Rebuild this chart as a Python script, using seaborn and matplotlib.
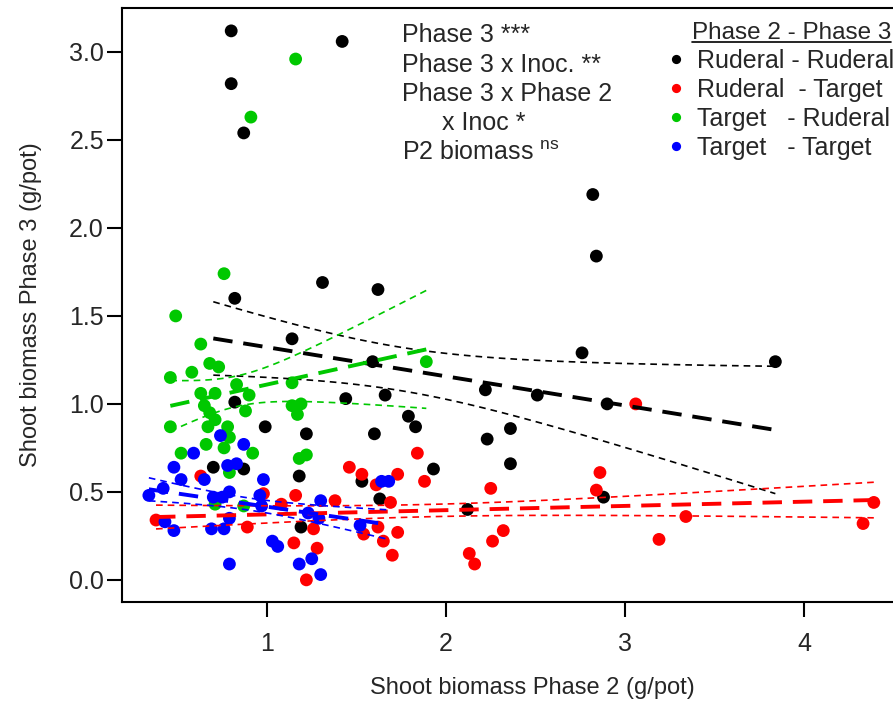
"""
Biomasa de brotes: fase 2 vs fase 3 por combinación de comunidades.
"""
import matplotlib.pyplot as plt
import numpy as np
import pandas as pd
import seaborn as sns
from matplotlib.lines import Line2D

GRUPOS = ["Ruderal - Ruderal", "Ruderal  - Target", "Target   - Ruderal", "Target   - Target"]
COLORES = ["#000000", "#ff0000", "#00c800", "#0000ff"]

# Ruderal - Ruderal
rr_x = [0.80, 0.80, 0.87, 1.42, 0.82, 1.31, 1.62, 1.14, 2.82, 2.84, 2.76, 3.84,
        2.90, 2.51, 2.22, 1.59, 1.44, 1.66, 1.79, 1.83, 1.60, 2.23, 2.36, 2.36,
        1.93, 0.99, 1.22, 0.82, 0.70, 0.87, 1.18, 1.63, 1.53, 1.19, 2.88, 2.12]
rr_y = [3.12, 2.82, 2.54, 3.06, 1.60, 1.69, 1.65, 1.37, 2.19, 1.84, 1.29, 1.24,
        1.00, 1.05, 1.08, 1.24, 1.03, 1.05, 0.93, 0.87, 0.83, 0.80, 0.86, 0.66,
        0.63, 0.87, 0.83, 1.01, 0.64, 0.63, 0.59, 0.46, 0.56, 0.30, 0.47, 0.40]

# Ruderal - Target
rt_x = [3.06, 2.86, 2.84, 2.25, 2.32, 2.26, 2.13, 2.16, 3.19, 3.34, 4.33, 4.39,
        1.84, 1.46, 1.53, 1.73, 1.61, 1.88, 1.38, 1.69, 1.16, 1.26, 1.62, 1.54,
        1.73, 1.65, 1.15, 1.28, 1.70, 1.22, 0.63, 0.98, 1.08, 0.38, 0.89]
rt_y = [1.00, 0.61, 0.51, 0.52, 0.28, 0.22, 0.15, 0.09, 0.23, 0.36, 0.32, 0.44,
        0.72, 0.64, 0.60, 0.60, 0.54, 0.56, 0.45, 0.44, 0.48, 0.29, 0.30, 0.26,
        0.27, 0.22, 0.21, 0.18, 0.14, 0.00, 0.59, 0.49, 0.43, 0.34, 0.30]

# Target - Ruderal
tr_x = [1.16, 0.91, 0.76, 0.49, 0.63, 0.68, 0.73, 0.46, 0.58, 0.63, 0.71, 0.65,
        0.68, 0.71, 0.83, 0.90, 0.88, 1.14, 1.14, 1.19, 1.17, 0.46, 0.67, 0.78,
        0.79, 0.66, 0.76, 0.92, 0.52, 1.18, 1.22, 0.79, 0.71, 0.87, 1.89]
tr_y = [2.96, 2.63, 1.74, 1.50, 1.34, 1.23, 1.21, 1.15, 1.18, 1.06, 1.06, 0.99,
        0.95, 0.91, 1.11, 1.05, 0.96, 1.12, 0.99, 1.00, 0.94, 0.87, 0.87, 0.87,
        0.81, 0.77, 0.75, 0.72, 0.72, 0.69, 0.71, 0.61, 0.43, 0.42, 1.24]

# Target - Target
tt_x = [0.74, 0.87, 0.59, 0.48, 0.78, 0.83, 0.52, 0.65, 0.98, 0.42, 0.34, 0.79,
        0.70, 0.75, 0.96, 0.97, 1.30, 1.23, 1.29, 0.43, 0.48, 0.69, 0.76, 0.79,
        1.03, 1.06, 0.79, 1.18, 1.25, 1.30, 1.52, 1.64, 1.68]
tt_y = [0.82, 0.77, 0.72, 0.64, 0.65, 0.66, 0.57, 0.57, 0.57, 0.52, 0.48, 0.50,
        0.47, 0.47, 0.48, 0.42, 0.45, 0.38, 0.35, 0.33, 0.28, 0.29, 0.29, 0.35,
        0.22, 0.19, 0.09, 0.09, 0.12, 0.03, 0.31, 0.56, 0.56]

X_TICKS = [1, 2, 3, 4]
Y_TICKS = [0.0, 0.5, 1.0, 1.5, 2.0, 2.5, 3.0]

ANOTACIONES = ["Phase 3 ***", "Phase 3 x Inoc. **", "Phase 3 x Phase 2",
               "x Inoc *", r"P2 biomass $^{\mathrm{ns}}$"]


def banda_error(x, y, n_se=1.0, n_puntos=120):
    # banda de +/- n_se errores estándar alrededor del ajuste lineal
    x = np.asarray(x)
    y = np.asarray(y)
    b1, b0 = np.polyfit(x, y, 1)
    xs = np.linspace(x.min(), x.max(), n_puntos)
    resid = y - (b0 + b1 * x)
    s = np.sqrt(np.sum(resid ** 2) / (len(x) - 2))
    se = s * np.sqrt(1 / len(x) + (xs - x.mean()) ** 2 / np.sum((x - x.mean()) ** 2))
    ajuste = b0 + b1 * xs
    return xs, ajuste - n_se * se, ajuste + n_se * se


series = [(rr_x, rr_y), (rt_x, rt_y), (tr_x, tr_y), (tt_x, tt_y)]
df = pd.concat(
    [pd.DataFrame({"p2": sx, "p3": sy, "grupo": g}) for (sx, sy), g in zip(series, GRUPOS)],
    ignore_index=True,
)

sns.set_style("ticks")
plt.rcParams["font.family"] = ["Liberation Sans", "DejaVu Sans"]
plt.rcParams["mathtext.fontset"] = "custom"
plt.rcParams["mathtext.rm"] = "Liberation Sans"

W, H = 893, 701
fig = plt.figure(figsize=(W / 100, H / 100), dpi=100)
ax = fig.add_axes([122 / W, (H - 601.5) / H, (942 - 122) / W, (601.5 - 8) / H])
alto_ax = 601.5 - 8
ancho_ax = 942 - 122

paleta = dict(zip(GRUPOS, COLORES))
sns.scatterplot(data=df, x="p2", y="p3", hue="grupo", hue_order=GRUPOS, palette=paleta,
                s=85, linewidth=0, ax=ax, zorder=2)

for (sx, sy), color in zip(series, COLORES):
    sns.regplot(x=np.array(sx), y=np.array(sy), scatter=False, ci=None, truncate=True,
                color=color, ax=ax,
                line_kws=dict(lw=2.8, ls=(0, (5, 2.8)), zorder=3))
    xs, lo, hi = banda_error(sx, sy)
    ax.plot(xs, lo, color=color, lw=1.2, ls=(0, (4, 3)), zorder=3)
    ax.plot(xs, hi, color=color, lw=1.2, ls=(0, (4, 3)), zorder=3)

ax.set_xlim(1 + (122 - 267) / 179, 1 + (942 - 267) / 179)
ax.set_ylim(-0.123, 3.25)
ax.set_xticks(X_TICKS)
ax.set_yticks(Y_TICKS)
ax.set_yticklabels([f"{v:.1f}" for v in Y_TICKS])

for lado in ["top", "right", "left", "bottom"]:
    ax.spines[lado].set_visible(True)
    ax.spines[lado].set_linewidth(1.5)
    ax.spines[lado].set_color("black")

ax.tick_params(axis="both", direction="out", length=11, width=1.5, labelsize=18, color="black")
ax.tick_params(axis="x", pad=11)
ax.tick_params(axis="y", pad=2)

ax.set_xlabel("Shoot biomass Phase 2 (g/pot)", fontsize=17)
ax.set_ylabel("Shoot biomass Phase 3 (g/pot)", fontsize=17)
ax.xaxis.set_label_coords(0.5, -(677 - 601.5) / alto_ax)
ax.yaxis.set_label_coords(-(122 - 42) / ancho_ax, 0.5)

# leyenda
handles, labels = ax.get_legend_handles_labels()
ax.legend(handles, labels, loc="upper left", frameon=False, fontsize=18,
          bbox_to_anchor=(668 / W, 1 - 49 / H), bbox_transform=fig.transFigure,
          borderpad=0, borderaxespad=0, handlelength=0.6, handletextpad=0.55,
          labelspacing=0.2, markerscale=0.72)

titulo = fig.text(692 / W, 1 - 39 / H, "Phase 2 - Phase 3", fontsize=17.5, va="baseline")

# anotaciones de significancia
x_anot = [402, 402, 402, 442, 402]
for i, (texto, xp) in enumerate(zip(ANOTACIONES, x_anot)):
    fig.text(xp / W, 1 - (42 + 29.5 * i) / H, texto, fontsize=18, va="baseline")

fig.canvas.draw()
bb = titulo.get_window_extent()
y_sub = (bb.y0 + 2) / H
fig.add_artist(Line2D([bb.x0 / W, bb.x1 / W], [y_sub, y_sub], color="black", lw=1.2,
                      transform=fig.transFigure))

fig.savefig("out.png", dpi=100)
